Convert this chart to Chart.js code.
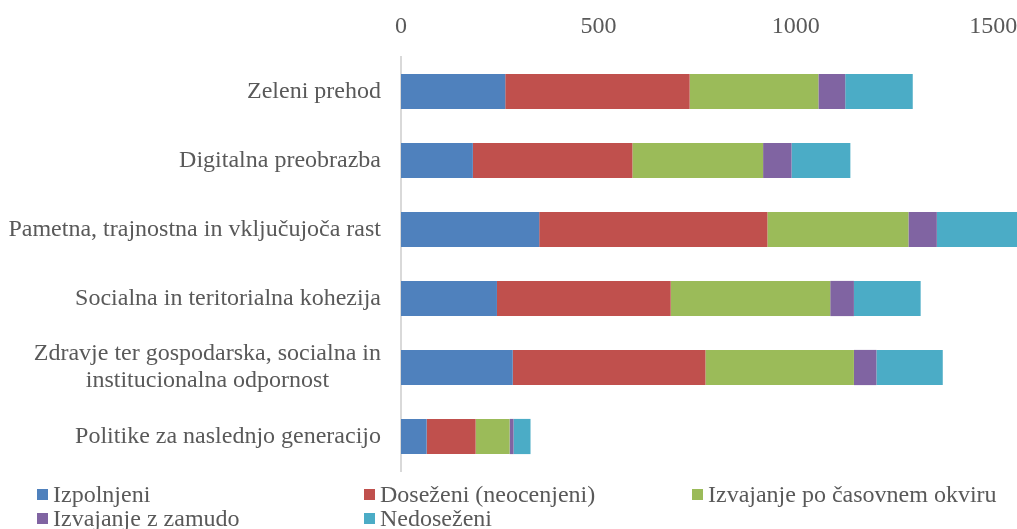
<!DOCTYPE html>
<html>
<head>
<meta charset="utf-8">
<script src="https://cdn.jsdelivr.net/npm/chart.js@4"></script>
<style>
  html, body { margin: 0; padding: 0; background: #fff; }
  #wrap { position: relative; width: 1017px; height: 529px; overflow: hidden; }
  #legend { position: absolute; left: 0; top: 482px; width: 1017px; height: 47px;
            font-family: "Liberation Serif", "Times New Roman", serif; font-size: 24px; color: #595959; }
  .item { position: absolute; height: 24px; line-height: 24px; white-space: nowrap; }
  .box { display: inline-block; width: 11px; height: 11px; margin-right: 5px; vertical-align: 2px; }
</style>
</head>
<body>
<div id="wrap">
  <canvas id="chart" width="1017" height="529"></canvas>
  <div id="legend"></div>
</div>
<script>
// categories (y axis)
const categories = [
  "Zeleni prehod",
  "Digitalna preobrazba",
  "Pametna, trajnostna in vključujoča rast",
  "Socialna in teritorialna kohezija",
  ["Zdravje ter gospodarska, socialna in", "institucionalna odpornost"],
  "Politike za naslednjo generacijo"
];

// series values
const izpolnjeni = [264, 182, 350, 243, 283, 65];
const dosezeni = [467, 404, 578, 440, 488, 124];
const poOkviru = [326, 331, 357, 404, 376, 86];
const zZamudo = [68, 72, 72, 60, 57, 10];
const nedosezeni = [171, 149, 220, 169, 168, 43];

// x axis ticks
const xTicks = [0, 500, 1000, 1500];
const xMax = 1560;

const FONT = '"Liberation Serif", "Times New Roman", serif';
const TEXT = "#595959";

const datasets = [
  { label: "Izpolnjeni", data: izpolnjeni, backgroundColor: "#4F81BD" },
  { label: "Doseženi (neocenjeni)", data: dosezeni, backgroundColor: "#C0504D" },
  { label: "Izvajanje po časovnem okviru", data: poOkviru, backgroundColor: "#9BBB59" },
  { label: "Izvajanje z zamudo", data: zZamudo, backgroundColor: "#8064A2" },
  { label: "Nedoseženi", data: nedosezeni, backgroundColor: "#4BACC6" }
];

// draw y labels ourselves so the two-line label is centred like the original
const yLabels = {
  id: "yLabels",
  afterDraw(chart) {
    const ctx = chart.ctx;
    const y = chart.scales.y;
    ctx.save();
    ctx.font = "24px " + FONT;
    ctx.fillStyle = TEXT;
    ctx.textBaseline = "middle";
    ctx.textAlign = "center";
    const right = chart.chartArea.left - 20;
    const lineH = 27;
    categories.forEach((lab, i) => {
      const lines = Array.isArray(lab) ? lab : [lab];
      const w = Math.max(...lines.map(l => ctx.measureText(l).width));
      const cx = right - w / 2;
      const py = y.getPixelForTick(i);
      lines.forEach((l, j) => {
        ctx.fillText(l, cx, py + (j - (lines.length - 1) / 2) * lineH);
      });
    });
    ctx.restore();
  }
};

new Chart(document.getElementById("chart"), {
  type: "bar",
  data: {
    labels: categories.map(c => Array.isArray(c) ? c.join(" ") : c),
    datasets: datasets.map(d => Object.assign({ borderWidth: 0 }, d))
  },
  options: {
    indexAxis: "y",
    responsive: false,
    animation: false,
    layout: { padding: { left: 0, right: 0, top: 0, bottom: 58 } },
    datasets: { bar: { categoryPercentage: 1, barPercentage: 0.51 } },
    plugins: { legend: { display: false }, tooltip: { enabled: false } },
    scales: {
      x: {
        position: "top",
        stacked: true,
        min: 0,
        max: xMax,
        afterFit(scale) {
          scale.height = 57;
          scale.paddingRight = 0;
          scale.paddingLeft = 0;
        },
        afterBuildTicks(scale) { scale.ticks = xTicks.map(v => ({ value: v })); },
        grid: { display: false, drawTicks: false },
        border: { display: false },
        ticks: {
          padding: 16,
          color: TEXT,
          font: { family: FONT, size: 24 },
          callback: v => String(v)
        }
      },
      y: {
        stacked: true,
        afterFit(scale) { scale.width = 401; },
        grid: { display: false, drawTicks: false },
        border: { display: true, color: "#d9d9d9", width: 2 },
        ticks: { display: false }
      }
    }
  },
  plugins: [yLabels]
});

// legend in three columns like the original
const legendPos = [[37, 0], [364, 0], [692, 0], [37, 24], [364, 24]];
const legend = document.getElementById("legend");
datasets.forEach((d, i) => {
  const el = document.createElement("div");
  el.className = "item";
  el.style.left = legendPos[i][0] + "px";
  el.style.top = legendPos[i][1] + "px";
  el.innerHTML = '<span class="box" style="background:' + d.backgroundColor + '"></span>' + d.label;
  legend.appendChild(el);
});
</script>
</body>
</html>
